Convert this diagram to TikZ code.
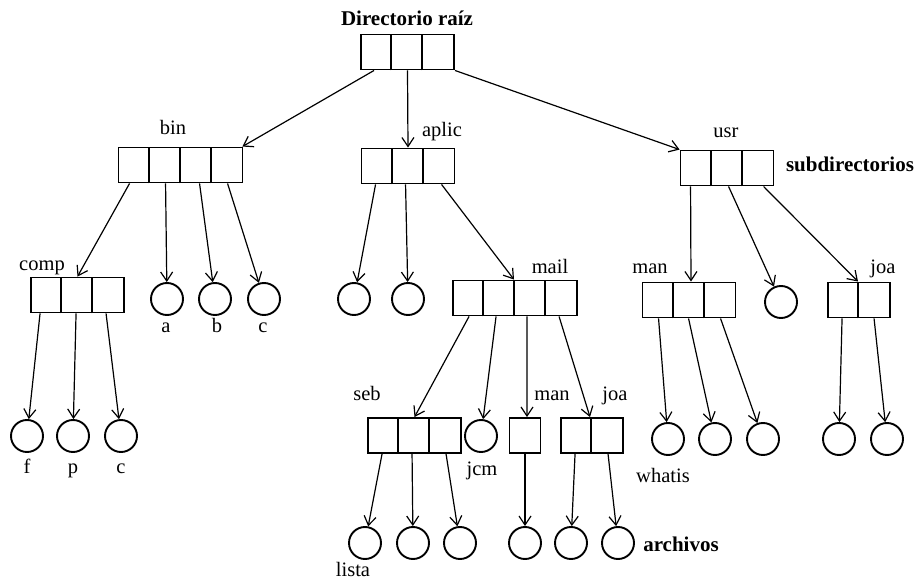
\documentclass[tikz,border=0pt]{standalone}
\usepackage{fontspec}
\setmainfont{Liberation Serif}
\usetikzlibrary{arrows.meta}
\newcommand\mkcells[2]{\foreach \i in {1,...,#2}{\draw[line width=1.9pt] ([xshift=\i*31pt]#1.south west) -- ([xshift=\i*31pt]#1.north west);}}
\begin{document}
\begin{tikzpicture}[x=1pt,y=-1pt,
  dirbox/.style={draw, rectangle, line width=1.9pt, minimum height=35pt, inner sep=0pt},
  file/.style={draw, circle, line width=1.9pt, minimum size=32pt, inner sep=0pt},
  lbl/.style={font=\fontsize{20.5}{24}\selectfont, inner sep=0pt, anchor=base},
  blbl/.style={font=\fontsize{21}{25}\selectfont\bfseries, inner sep=0pt, anchor=base},
  arr/.style={line width=1.2pt, -{Straight Barb[length=9pt,width=12pt,line width=1.2pt]}}]
\path[use as bounding box] (0,0) rectangle (916,580);
% boxes
\node[dirbox, minimum width=93pt]  (root)  at (407.5,52) {};
\node[dirbox, minimum width=124pt] (bin)   at (180.5,165) {};
\node[dirbox, minimum width=93pt]  (comp)  at (77.5,295) {};
\node[dirbox, minimum width=93pt]  (aplic) at (408,166) {};
\node[dirbox, minimum width=124pt] (mail)  at (515,298) {};
\node[dirbox, minimum width=93pt]  (seb)   at (414.5,435.5) {};
\node[dirbox, minimum width=31pt]  (mman)  at (525,435.5) {};
\node[dirbox, minimum width=62pt]  (mjoa)  at (592,435.5) {};
\node[dirbox, minimum width=93pt]  (usr)   at (727,168) {};
\node[dirbox, minimum width=93pt]  (uman)  at (689,300) {};
\node[dirbox, minimum width=62pt]  (ujoa)  at (859,300) {};
\mkcells{root}{2}
\mkcells{bin}{3}
\mkcells{comp}{2}
\mkcells{aplic}{2}
\mkcells{mail}{3}
\mkcells{seb}{2}
\mkcells{mjoa}{1}
\mkcells{usr}{2}
\mkcells{uman}{2}
\mkcells{ujoa}{1}
% files
\node[file] (ca) at (167,299) {};
\node[file] (cb) at (215,299) {};
\node[file] (cc) at (264,299) {};
\node[file] (cf) at (27,436) {};
\node[file] (cp) at (73,436) {};
\node[file] (cc2) at (121,436) {};
\node[file] (ap1) at (354,299) {};
\node[file] (ap2) at (408,299) {};
\node[file] (jcm) at (481,436) {};
\node[file] (uc) at (781,302) {};
\node[file] (s1) at (365,543) {};
\node[file] (s2) at (413,543) {};
\node[file] (s3) at (460,543) {};
\node[file] (mm1) at (525,543) {};
\node[file] (mj1) at (571,543) {};
\node[file] (mj2) at (618,543) {};
\node[file] (um1) at (668,439) {};
\node[file] (um2) at (715,439) {};
\node[file] (um3) at (763,439) {};
\node[file] (uj1) at (839,439) {};
\node[file] (uj2) at (887,439) {};
% labels (y = baseline)
\node[blbl] (troot) at (407,26) {Directorio raíz};
\node[lbl] (tbin) at (173,135) {bin};
\node[lbl] (tcomp) at (42,271) {comp};
\node[lbl] (ta) at (166,332) {a};
\node[lbl] (tb) at (217,332) {b};
\node[lbl] (tc) at (263,332) {c};
\node[lbl] (tf) at (27,473) {f};
\node[lbl] (tp) at (73,473) {p};
\node[lbl] (tc2) at (121,473) {c};
\node[lbl] (taplic) at (442,137) {aplic};
\node[lbl] (tmail) at (550,273) {mail};
\node[lbl] (tseb) at (367,400) {seb};
\node[lbl] (tjcm) at (482,475) {jcm};
\node[lbl] (tmman) at (552,400) {man};
\node[lbl] (tmjoa) at (615,400) {joa};
\node[lbl] (tlista) at (353,576) {lista};
\node[blbl] (tarch) at (681,551) {archivos};
\node[lbl] (tusr) at (726,138) {usr};
\node[blbl] (tsub) at (850,172) {subdirectorios};
\node[lbl] (tuman) at (650,273) {man};
\node[lbl] (tujoa) at (883,273) {joa};
\node[lbl] (twhat) at (663,482) {whatis};
% connectors
\draw[arr] ([xshift=14pt]root.south west) -- ([xshift=-1pt]bin.north east);
\draw[arr] (root.south) -- (aplic.north);
\draw[arr] (root.south east) -- (usr.north west);
\draw[arr] ([xshift=12pt]bin.south west) -- (comp.north);
\draw[arr] ([xshift=48pt]bin.south west) -- (ca);
\draw[arr] ([xshift=82pt]bin.south west) -- (cb);
\draw[arr] ([xshift=110pt]bin.south west) -- (cc);
\draw[arr] ([xshift=10pt]comp.south west) -- (cf);
\draw[arr] ([xshift=46pt]comp.south west) -- (cp);
\draw[arr] ([xshift=76pt]comp.south west) -- (cc2);
\draw[arr] ([xshift=15pt]aplic.south west) -- (ap1);
\draw[arr] ([xshift=45pt]aplic.south west) -- (ap2);
\draw[arr] ([xshift=81pt]aplic.south west) -- ([xshift=-1pt]mail.north);
\draw[arr] ([xshift=17pt]mail.south west) -- (seb.north);
\draw[arr] ([xshift=44pt]mail.south west) -- (jcm);
\draw[arr] ([xshift=75pt]mail.south west) -- ([xshift=2pt]mman.north);
\draw[arr] ([xshift=107pt]mail.south west) -- ([xshift=-2pt]mjoa.north);
\draw[arr] ([xshift=15pt]seb.south west) -- (s1);
\draw[arr] ([xshift=45pt]seb.south west) -- (s2);
\draw[arr] ([xshift=79pt]seb.south west) -- (s3);
\draw[arr] (mman.south) -- (mm1);
\draw[arr] ([xshift=15pt]mjoa.south west) -- (mj1);
\draw[arr] ([xshift=48pt]mjoa.south west) -- (mj2);
\draw[arr] ([xshift=11pt]usr.south west) -- ([xshift=2pt]uman.north);
\draw[arr] ([xshift=49pt]usr.south west) -- (uc);
\draw[arr] ([xshift=84pt]usr.south west) -- ([xshift=-1pt]ujoa.north);
\draw[arr] ([xshift=17pt]uman.south west) -- (um1);
\draw[arr] ([xshift=47pt]uman.south west) -- (um2);
\draw[arr] ([xshift=79pt]uman.south west) -- (um3);
\draw[arr] ([xshift=15pt]ujoa.south west) -- (uj1);
\draw[arr] ([xshift=47pt]ujoa.south west) -- (uj2);
\end{tikzpicture}
\end{document}
